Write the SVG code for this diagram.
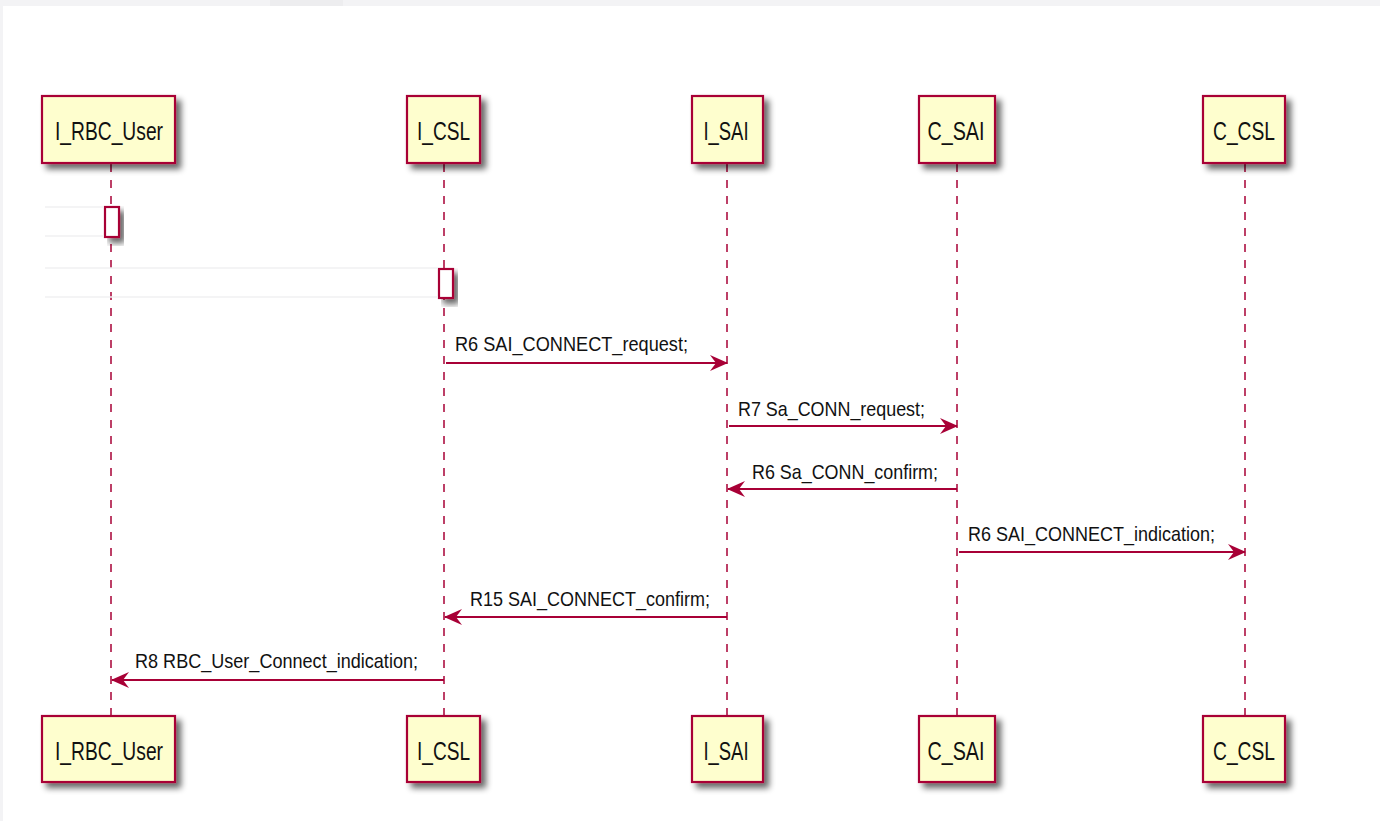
<svg xmlns="http://www.w3.org/2000/svg" width="1380" height="821" viewBox="0 0 1380 821">
  <style>
    .box { fill: #FEFECE; stroke: #A80036; stroke-width: 2.2; }
    .act { fill: #FFFFFF; stroke: #A80036; stroke-width: 2.2; }
    .life { stroke: #A80036; stroke-width: 1.5; stroke-dasharray: 8 8; fill: none; }
    .msg { stroke: #A80036; stroke-width: 2.2; fill: none; }
    .ghost { stroke: #F0F0F2; stroke-width: 1.5; fill: none; }
    .name { font-family: "Liberation Sans", Arial, sans-serif; font-size: 26px; fill: #111; text-anchor: middle; }
    .lbl { font-family: "Liberation Sans", Arial, sans-serif; font-size: 21px; fill: #111; }
  </style>
  <defs>
    <filter id="shadow" x="-20%" y="-20%" width="150%" height="150%">
      <feGaussianBlur in="SourceAlpha" stdDeviation="3"/>
      <feOffset dx="5" dy="5" result="b"/>
      <feComponentTransfer><feFuncA type="linear" slope="0.6"/></feComponentTransfer>
      <feMerge><feMergeNode/><feMergeNode in="SourceGraphic"/></feMerge>
    </filter>
    <marker id="arrow" viewBox="0 0 18 16" refX="17" refY="8" markerWidth="18" markerHeight="16" markerUnits="userSpaceOnUse" orient="auto">
      <path d="M0,0 L18,8 L0,16 L6,8 Z" fill="#A80036"/>
    </marker>
  </defs>

  <!-- page background -->
  <rect x="0" y="0" width="1380" height="821" fill="#FFFFFF"/>
  <rect x="0" y="0" width="1380" height="6" fill="#F3F3F5"/>
  <rect x="270" y="0" width="73" height="6" fill="#EDEDEF"/>
  <rect x="0" y="0" width="3" height="821" fill="#F3F3F5"/>

  <!-- lifelines -->
  <g id="lifelines">
    <line class="life" x1="111" y1="164" x2="111" y2="716"/>
    <line class="life" x1="444" y1="164" x2="444" y2="716"/>
    <line class="life" x1="727" y1="164" x2="727" y2="716"/>
    <line class="life" x1="957" y1="164" x2="957" y2="716"/>
    <line class="life" x1="1245" y1="164" x2="1245" y2="716"/>
  </g>

  <!-- participants, top -->
  <g id="I_RBC_User_top"><rect class="box" x="42" y="96" width="133" height="67" filter="url(#shadow)"/><text class="name" x="109" y="140" textLength="108" lengthAdjust="spacingAndGlyphs">I_RBC_User</text></g>
  <g id="I_CSL_top"><rect class="box" x="407" y="96" width="73" height="67" filter="url(#shadow)"/><text class="name" x="443.5" y="140" textLength="53" lengthAdjust="spacingAndGlyphs">I_CSL</text></g>
  <g id="I_SAI_top"><rect class="box" x="692" y="96" width="71" height="67" filter="url(#shadow)"/><text class="name" x="726" y="140" textLength="45" lengthAdjust="spacingAndGlyphs">I_SAI</text></g>
  <g id="C_SAI_top"><rect class="box" x="919" y="96" width="76" height="67" filter="url(#shadow)"/><text class="name" x="956" y="140" textLength="57" lengthAdjust="spacingAndGlyphs">C_SAI</text></g>
  <g id="C_CSL_top"><rect class="box" x="1203" y="96" width="82" height="67" filter="url(#shadow)"/><text class="name" x="1244" y="140" textLength="62" lengthAdjust="spacingAndGlyphs">C_CSL</text></g>

  <!-- participants, bottom -->
  <g id="I_RBC_User_bottom"><rect class="box" x="42" y="716" width="133" height="66" filter="url(#shadow)"/><text class="name" x="109" y="760" textLength="108" lengthAdjust="spacingAndGlyphs">I_RBC_User</text></g>
  <g id="I_CSL_bottom"><rect class="box" x="407" y="716" width="73" height="66" filter="url(#shadow)"/><text class="name" x="443.5" y="760" textLength="53" lengthAdjust="spacingAndGlyphs">I_CSL</text></g>
  <g id="I_SAI_bottom"><rect class="box" x="692" y="716" width="71" height="66" filter="url(#shadow)"/><text class="name" x="726" y="760" textLength="45" lengthAdjust="spacingAndGlyphs">I_SAI</text></g>
  <g id="C_SAI_bottom"><rect class="box" x="919" y="716" width="76" height="66" filter="url(#shadow)"/><text class="name" x="956" y="760" textLength="57" lengthAdjust="spacingAndGlyphs">C_SAI</text></g>
  <g id="C_CSL_bottom"><rect class="box" x="1203" y="716" width="82" height="66" filter="url(#shadow)"/><text class="name" x="1244" y="760" textLength="62" lengthAdjust="spacingAndGlyphs">C_CSL</text></g>

  <!-- activation bars -->
  <g id="activations">
    <rect class="act" x="105" y="207" width="14" height="30" filter="url(#shadow)"/>
    <rect class="act" x="439" y="269" width="14" height="29" filter="url(#shadow)"/>
  </g>

  <!-- messages -->
  <g id="connectors">
    <!-- faint incoming calls from the left edge -->
    <line class="ghost" x1="45" y1="207" x2="104" y2="207"/>
    <line class="ghost" x1="45" y1="236" x2="104" y2="236"/>
    <line class="ghost" x1="45" y1="268" x2="438" y2="268"/>
    <line class="ghost" x1="45" y1="297" x2="438" y2="297"/>

    <line class="msg" x1="446" y1="363" x2="727" y2="363" marker-end="url(#arrow)"/>
    <text class="lbl" x="455" y="351" textLength="233" lengthAdjust="spacingAndGlyphs">R6 SAI_CONNECT_request;</text>

    <line class="msg" x1="729" y1="426" x2="957" y2="426" marker-end="url(#arrow)"/>
    <text class="lbl" x="738" y="416" textLength="187" lengthAdjust="spacingAndGlyphs">R7 Sa_CONN_request;</text>

    <line class="msg" x1="957" y1="489" x2="728" y2="489" marker-end="url(#arrow)"/>
    <text class="lbl" x="752" y="479" textLength="186" lengthAdjust="spacingAndGlyphs">R6 Sa_CONN_confirm;</text>

    <line class="msg" x1="959" y1="552" x2="1245" y2="552" marker-end="url(#arrow)"/>
    <text class="lbl" x="968" y="541" textLength="247" lengthAdjust="spacingAndGlyphs">R6 SAI_CONNECT_indication;</text>

    <line class="msg" x1="727" y1="617" x2="445" y2="617" marker-end="url(#arrow)"/>
    <text class="lbl" x="470" y="606" textLength="240" lengthAdjust="spacingAndGlyphs">R15 SAI_CONNECT_confirm;</text>

    <line class="msg" x1="444" y1="680" x2="112" y2="680" marker-end="url(#arrow)"/>
    <text class="lbl" x="135" y="668" textLength="283" lengthAdjust="spacingAndGlyphs">R8 RBC_User_Connect_indication;</text>
  </g>
</svg>
